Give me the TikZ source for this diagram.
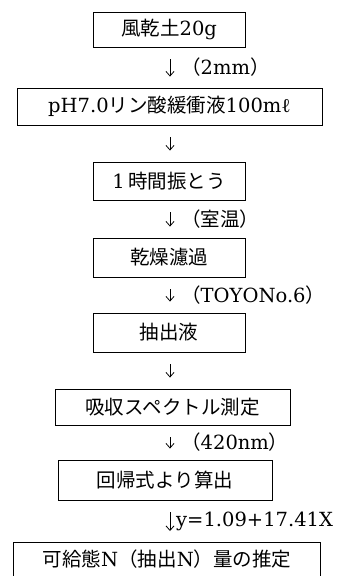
\documentclass[tikz,border=0pt]{standalone}
\usepackage{fontspec}
\setmainfont{DejaVu Serif}
\newfontfamily\jp{Noto Sans CJK JP}
\newfontfamily\libser{Liberation Serif}
\usetikzlibrary{arrows.meta}
\begin{document}
\begin{tikzpicture}[x=1pt,y=-1pt,
  box/.style={draw, line width=0.9pt, inner sep=0pt, font=\fontsize{19.5}{21}\selectfont},
  arr/.style={line width=0.8pt, -{Straight Barb[length=4.5pt,width=8pt]}, shorten <=12pt, shorten >=11pt},
  lab/.style={anchor=west, inner sep=0pt, font=\fontsize{19.5}{21}\selectfont}]
\useasboundingbox (0,0) rectangle (347,576);
\coordinate (ax) at (170,0);
\node[box, minimum width=152pt, minimum height=35pt] (b1) at (169,29.5) {{\jp 風乾土}20g};
\node[box, minimum width=305pt, minimum height=37pt] (b2) at (169.5,106.5) {pH7.0{\jp リン酸緩衝液}100m{\libser ℓ}};
\node[box, minimum width=152pt, minimum height=38pt] (b3) at (169,181) {1\,{\jp 時間振とう}};
\node[box, minimum width=152pt, minimum height=39pt] (b4) at (169,257.5) {\jp 乾燥濾過};
\node[box, minimum width=152pt, minimum height=39pt] (b5) at (169,332.5) {\jp 抽出液};
\node[box, minimum width=235pt, minimum height=36pt] (b6) at (172.5,407) {\jp 吸収スペクトル測定};
\node[box, minimum width=214pt, minimum height=40pt] (b7) at (165,480) {\jp 回帰式より算出};
\node[lab, anchor=north, minimum height=34pt, minimum width=307pt] (b8) at (167,542) {{\jp 可給態}N{\jp （抽出}N{\jp ）量の推定}};
\draw[line width=0.9pt] (b8.south west) -- (b8.north west) -- (b8.north east) -- (b8.south east);
\draw[arr] (b1.south -| ax) -- (b2.north -| ax) coordinate[midway] (m1);
\draw[arr] (b2.south -| ax) -- (b3.north -| ax);
\draw[arr] (b3.south -| ax) -- (b4.north -| ax) coordinate[midway] (m3);
\draw[arr] (b4.south -| ax) -- (b5.north -| ax) coordinate[midway] (m4);
\draw[arr] (b5.south -| ax) -- (b6.north -| ax);
\draw[arr] (b6.south -| ax) -- (b7.north -| ax) coordinate[midway] (m6);
\draw[arr] (b7.south -| ax) -- (b8.north -| ax) coordinate[midway] (m7);
\node[lab] (l1) at ([xshift=11pt]m1) {{\jp （}2mm{\jp ）}};
\node[lab] (l3) at ([xshift=11pt]m3) {\jp （室温）};
\node[lab] (l4) at ([xshift=11pt]m4) {{\jp （}TOYONo.6{\jp ）}};
\node[lab] (l6) at ([xshift=11pt]m6) {{\jp （}420nm{\jp ）}};
\node[lab] (l7) at ([xshift=6pt]m7) {y=1.09+17.41X};
\end{tikzpicture}
\end{document}
